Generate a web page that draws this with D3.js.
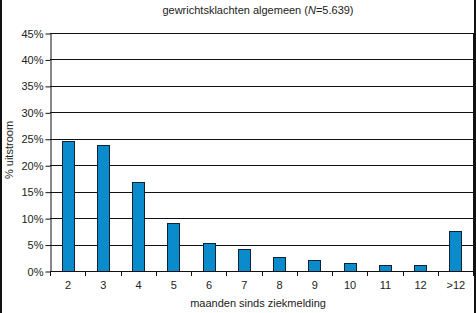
<!DOCTYPE html>
<html>
<head>
<meta charset="utf-8">
<script src="https://cdn.jsdelivr.net/npm/d3@7"></script>
<style>
  body { margin: 0; background: #fff; }
  text { font-family: "Liberation Sans", Arial, sans-serif; fill: #222; }
</style>
</head>
<body>
<svg></svg>
<script>
// chart data
let categories = ['2', '3', '4', '5', '6', '7', '8', '9', '10', '11', '12', '>12'];
let values = [24.6, 23.8, 16.8, 9.0, 5.2, 4.2, 2.6, 2.0, 1.5, 1.1, 1.1, 7.5];
let yTicks = [0, 5, 10, 15, 20, 25, 30, 35, 40, 45];

let svg = d3.select('svg');
let width = 476;
let height = 313;
let plotLeft = 50, plotRight = 473, plotTop = 33, plotBottom = 271;

svg.attr('width', width).attr('height', height);

let xScale = d3.scaleBand()
    .domain(categories)
    .range([plotLeft, plotRight])
    .paddingInner(0.66)
    .paddingOuter(0.33);

let yScale = d3.scaleLinear()
    .domain([0, 45])
    .range([plotBottom, plotTop]);

// gridlines
svg.append('g')
    .selectAll('line')
    .data(yTicks)
    .join('line')
    .attr('x1', plotLeft)
    .attr('x2', plotRight)
    .attr('y1', d => Math.round(yScale(d)) + 0.5)
    .attr('y2', d => Math.round(yScale(d)) + 0.5)
    .attr('stroke', '#111')
    .attr('stroke-width', 1);

// plot frame right side
svg.append('line')
    .attr('x1', plotRight + 0.5).attr('x2', plotRight + 0.5)
    .attr('y1', plotTop).attr('y2', plotBottom)
    .attr('stroke', '#111');

// bars
svg.append('g')
    .selectAll('rect')
    .data(values)
    .join('rect')
    .attr('x', (d, i) => Math.round(xScale(categories[i])) + 0.5)
    .attr('y', d => Math.round(yScale(d)) + 0.5)
    .attr('width', Math.round(xScale.bandwidth()))
    .attr('height', d => Math.round(yScale(0)) - Math.round(yScale(d)))
    .attr('fill', '#0a8bcc')
    .attr('stroke', '#123')
    .attr('stroke-width', 1);

// y axis
let yAxis = d3.axisLeft(yScale)
    .tickValues(yTicks)
    .tickFormat(d => d + '%')
    .tickSize(5)
    .tickSizeOuter(0);

let gy = svg.append('g')
    .attr('transform', 'translate(' + (plotLeft + 0.5) + ', 0.5)')
    .call(yAxis);
gy.select('.domain').attr('stroke', '#111');
gy.selectAll('.tick line').attr('stroke', '#111');
gy.selectAll('text').style('font-size', '11px').attr('x', -7);

// x axis: ticks on category boundaries
let boundaries = d3.range(categories.length + 1).map(i => plotLeft + i * (plotRight - plotLeft) / categories.length);

let gx = svg.append('g');
gx.append('line')
    .attr('x1', plotLeft).attr('x2', plotRight)
    .attr('y1', plotBottom + 0.5).attr('y2', plotBottom + 0.5)
    .attr('stroke', '#111');
gx.selectAll('.bt')
    .data(boundaries)
    .join('line')
    .attr('class', 'bt')
    .attr('x1', d => Math.round(d) + 0.5)
    .attr('x2', d => Math.round(d) + 0.5)
    .attr('y1', plotBottom)
    .attr('y2', plotBottom + 5)
    .attr('stroke', '#111');
gx.selectAll('text')
    .data(categories)
    .join('text')
    .attr('x', d => xScale(d) + xScale.bandwidth() / 2 + 0.5)
    .attr('y', plotBottom + 18)
    .attr('text-anchor', 'middle')
    .style('font-size', '11px')
    .text(d => d);

// title
let title = svg.append('text')
    .attr('x', 258)
    .attr('y', 14)
    .attr('text-anchor', 'middle')
    .style('font-size', '11px');
title.append('tspan').text('gewrichtsklachten algemeen (');
title.append('tspan').style('font-style', 'italic').text('N');
title.append('tspan').text('=5.639)');

// axis titles
svg.append('text')
    .attr('x', 258)
    .attr('y', 307)
    .attr('text-anchor', 'middle')
    .style('font-size', '11px')
    .text('maanden sinds ziekmelding');

svg.append('text')
    .attr('transform', 'translate(13, 150) rotate(-90)')
    .attr('text-anchor', 'middle')
    .style('font-size', '11px')
    .text('% uitstroom');

// image border left and right
svg.append('rect').attr('x', 0).attr('y', 0).attr('width', 2).attr('height', height).attr('fill', '#111');
svg.append('rect').attr('x', 474).attr('y', 0).attr('width', 2).attr('height', height).attr('fill', '#111');
</script>
</body>
</html>
